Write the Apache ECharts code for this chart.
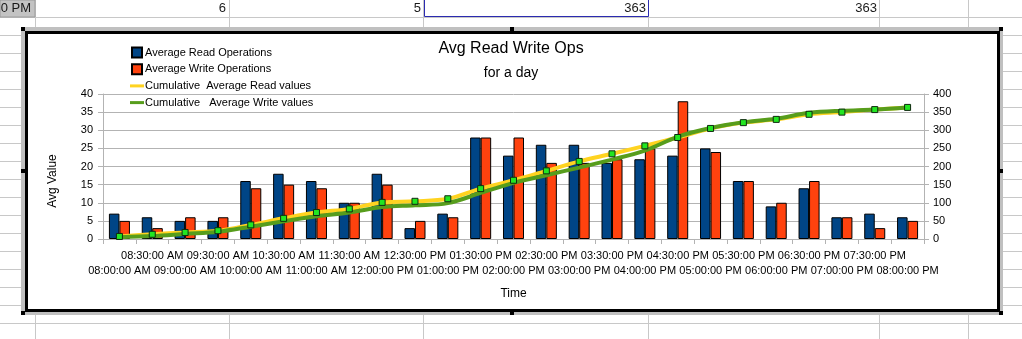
<!DOCTYPE html>
<html>
<head>
<meta charset="utf-8">
<title>Avg Read Write Ops</title>
<script src="https://cdn.jsdelivr.net/npm/echarts@6/dist/echarts.min.js"></script>
<style>
  html, body { margin: 0; padding: 0; background: #fff; }
  #chart { width: 1022px; height: 339px; }
</style>
</head>
<body>
<div id="chart"></div>
<script>
// Half-hour time slots of the day
const timeSlots = [
  '08:00:00 AM', '08:30:00 AM', '09:00:00 AM', '09:30:00 AM', '10:00:00 AM',
  '10:30:00 AM', '11:00:00 AM', '11:30:00 AM', '12:00:00 PM', '12:30:00 PM',
  '01:00:00 PM', '01:30:00 PM', '02:00:00 PM', '02:30:00 PM', '03:00:00 PM',
  '03:30:00 PM', '04:00:00 PM', '04:30:00 PM', '05:00:00 PM', '05:30:00 PM',
  '06:00:00 PM', '06:30:00 PM', '07:00:00 PM', '07:30:00 PM', '08:00:00 PM'
];

// Average operations per slot (left axis)
const avgReadOps  = [7, 6, 5, 5, 16, 18, 16, 10, 18, 3, 7, 28, 23, 26, 26, 21, 22, 23, 25, 16, 9, 14, 6, 7, 6];
const avgWriteOps = [5, 3, 6, 6, 14, 15, 14, 10, 15, 5, 6, 28, 28, 21, 21, 22, 25, 38, 24, 16, 10, 16, 6, 3, 5];

// Running totals (right axis)
const cumReadValues  = [7, 13, 18, 23, 39, 57, 73, 83, 101, 104, 111, 139, 162, 188, 214, 235, 257, 280, 305, 321, 330, 344, 350, 357, 363];
const cumWriteValues = [5, 8, 14, 20, 34, 49, 63, 73, 88, 93, 99, 127, 155, 176, 197, 219, 244, 282, 306, 322, 332, 348, 354, 357, 363];

// Axis ticks
const leftTicks  = { min: 0, max: 40, step: 5 };
const rightTicks = { min: 0, max: 400, step: 50 };

// Sheet cells visible above the chart
const sheetCells = [
  { text: '0 PM', right: 31 },
  { text: '6', right: 226 },
  { text: '5', right: 421 },
  { text: '363', right: 646 },
  { text: '363', right: 877 }
];

const seriesNames = {
  read: 'Average Read Operations',
  write: 'Average Write Operations',
  cumRead: 'Cumulative  Average Read values',
  cumWrite: 'Cumulative   Average Write values'
};

const FONT = '"Liberation Sans", Arial, sans-serif';
const GRID_GRAY = '#b3b3b3';
const SHEET_GRAY = '#c8c8c8';

// ---- spreadsheet background and chart frame ----
const sheetColumns = [35, 229, 423, 648, 879, 968];
const bg = [];
for (let k = 0; k < 19; k++) {
  const y = 17.5 + 18 * k;
  bg.push({ type: 'line', z: -20, silent: true,
    shape: { x1: 0, y1: y, x2: 1022, y2: y },
    style: { stroke: SHEET_GRAY, lineWidth: 1 } });
}
sheetColumns.forEach(x => {
  bg.push({ type: 'line', z: -20, silent: true,
    shape: { x1: x + 0.5, y1: 0, x2: x + 0.5, y2: 339 },
    style: { stroke: SHEET_GRAY, lineWidth: 1 } });
});
// highlighted cell at far left
bg.push({ type: 'rect', z: -19, silent: true,
  shape: { x: 0, y: 0, width: 35, height: 17 },
  style: { fill: '#c3c3c3', stroke: '#9a9a9a', lineWidth: 1 } });
// selected cell outline
bg.push({ type: 'rect', z: -18, silent: true,
  shape: { x: 424.5, y: -2, width: 224, height: 18.5 },
  style: { fill: '#ffffff', stroke: '#2b2bb0', lineWidth: 1 } });
sheetCells.forEach(c => {
  bg.push({ type: 'text', z: -17, silent: true, x: c.right, y: 8.5,
    style: { text: c.text, font: '13px ' + FONT, fill: '#1a1a1a', align: 'right', verticalAlign: 'middle' } });
});
// chart object frame
bg.push({ type: 'rect', z: -15, silent: true,
  shape: { x: 21, y: 27, width: 982, height: 288 },
  style: { fill: '#c0c0c0' } });
bg.push({ type: 'rect', z: -14, silent: true,
  shape: { x: 26.5, y: 32.5, width: 972, height: 278 },
  style: { fill: '#ffffff', stroke: '#000000', lineWidth: 3 } });
[[21, 27], [510, 27], [999, 27], [21, 169], [999, 169], [21, 311], [510, 311], [999, 311]].forEach(p => {
  bg.push({ type: 'rect', z: -13, silent: true,
    shape: { x: p[0], y: p[1], width: 4, height: 4 },
    style: { fill: '#000000' } });
});
// vertical axis title
bg.push({ type: 'text', z: 10, silent: true, x: 53, y: 181, rotation: Math.PI / 2,
  style: { text: 'Avg Value', font: '12px ' + FONT, fill: '#000', align: 'center', verticalAlign: 'middle' } });

const chart = echarts.init(document.getElementById('chart'), null, { renderer: 'canvas' });

const axisCommon = {
  axisLine: { show: true, lineStyle: { color: GRID_GRAY, width: 1 } },
  axisTick: { show: true, length: 5, lineStyle: { color: GRID_GRAY } },
  axisLabel: { fontSize: 11, color: '#000', fontFamily: FONT }
};

chart.setOption({
  animation: false,
  backgroundColor: 'transparent',
  textStyle: { fontFamily: FONT },
  graphic: { elements: bg },
  title: {
    text: 'Avg Read Write Ops',
    subtext: 'for a day',
    left: 'center',
    top: 36,
    itemGap: 9,
    textStyle: { fontSize: 16, fontWeight: 'normal', color: '#000', fontFamily: FONT },
    subtextStyle: { fontSize: 14, color: '#000', fontFamily: FONT }
  },
  legend: {
    orient: 'vertical',
    left: 130,
    top: 46.5,
    padding: 0,
    itemWidth: 14,
    itemHeight: 10,
    itemGap: 4.7,
    symbolKeepAspect: true,
    selectedMode: false,
    textStyle: { fontSize: 11, color: '#000', lineHeight: 12, fontFamily: FONT, padding: [0, 0, 0, -4] },
    data: [
      { name: seriesNames.read, icon: 'path://M0,0h10v10h-10z' },
      { name: seriesNames.write, icon: 'path://M0,0h10v10h-10z' },
      { name: seriesNames.cumRead, icon: 'path://M0,0h14v3h-14z', itemStyle: { borderWidth: 0 } },
      { name: seriesNames.cumWrite, icon: 'path://M0,0h14v3h-14z', itemStyle: { borderWidth: 0 } }
    ]
  },
  grid: { left: 103, right: 98, top: 94, bottom: 100, containLabel: false },
  xAxis: {
    type: 'category',
    data: timeSlots,
    boundaryGap: true,
    axisLine: axisCommon.axisLine,
    axisTick: { show: true, length: 5, alignWithLabel: false, lineStyle: { color: GRID_GRAY } },
    axisLabel: {
      interval: 0,
      fontSize: 11,
      color: '#000',
      fontFamily: FONT,
      margin: 9.5,
      lineHeight: 15,
      hideOverlap: false,
      formatter: (value, index) => (index % 2 === 1 ? value : '\n' + value)
    },
    name: 'Time',
    nameLocation: 'middle',
    nameGap: 49,
    nameTextStyle: { fontSize: 12, color: '#000', fontFamily: FONT }
  },
  yAxis: [
    {
      type: 'value',
      min: leftTicks.min,
      max: leftTicks.max,
      interval: leftTicks.step,
      position: 'left',
      axisLine: axisCommon.axisLine,
      axisTick: axisCommon.axisTick,
      axisLabel: Object.assign({ margin: 10 }, axisCommon.axisLabel),
      splitLine: { show: true, lineStyle: { color: GRID_GRAY, width: 1 } }
    },
    {
      type: 'value',
      min: rightTicks.min,
      max: rightTicks.max,
      interval: rightTicks.step,
      position: 'right',
      axisLine: axisCommon.axisLine,
      axisTick: axisCommon.axisTick,
      axisLabel: Object.assign({ margin: 9 }, axisCommon.axisLabel),
      splitLine: { show: false }
    }
  ],
  series: [
    {
      name: seriesNames.read,
      type: 'bar',
      data: avgReadOps,
      barGap: '0%',
      barCategoryGap: '36%',
      itemStyle: { color: '#004586', borderColor: '#000', borderWidth: 1 }
    },
    {
      name: seriesNames.write,
      type: 'bar',
      data: avgWriteOps,
      barGap: '0%',
      barCategoryGap: '36%',
      itemStyle: { color: '#FF420E', borderColor: '#000', borderWidth: 1 }
    },
    {
      name: seriesNames.cumRead,
      type: 'line',
      yAxisIndex: 1,
      data: cumReadValues,
      smooth: 0.35,
      symbol: 'none',
      lineStyle: { color: '#FFD320', width: 4 },
      itemStyle: { color: '#FFD320' },
      z: 3
    },
    {
      name: seriesNames.cumWrite,
      type: 'line',
      yAxisIndex: 1,
      data: cumWriteValues,
      smooth: 0.35,
      symbol: 'none',
      lineStyle: { color: '#579D1C', width: 4 },
      itemStyle: { color: '#579D1C' },
      z: 4
    },
    {
      name: 'read points',
      type: 'line',
      yAxisIndex: 1,
      data: cumReadValues,
      symbol: 'rect',
      symbolSize: 6,
      showSymbol: true,
      showAllSymbol: true,
      lineStyle: { width: 0, opacity: 0 },
      itemStyle: { color: '#22e622', borderColor: '#0f2a0f', borderWidth: 1 },
      z: 6,
      silent: true
    }
  ]
});
</script>
</body>
</html>
